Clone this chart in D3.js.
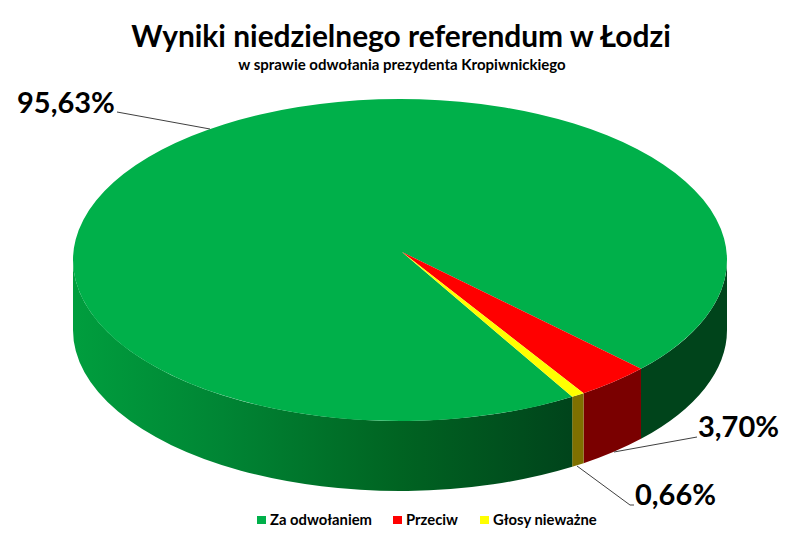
<!DOCTYPE html>
<html><head><meta charset="utf-8"><script src="https://cdn.jsdelivr.net/npm/d3@7"></script>
<style>html,body{margin:0;padding:0;background:#fff}svg{display:block}text{font-family:Lato,"Open Sans",sans-serif;fill:#000;font-weight:700}</style></head>
<body><svg id="c" width="800" height="556"></svg>
<script>
const categories=["Za odwołaniem","Przeciw","Głosy nieważne"];
const values=[95.63,3.70,0.66];
const labels=["95,63%","3,70%","0,66%"];
const colors=["#00b04a","#ff0000","#ffff00"];
const wallColors=["#00441b","#7a0000","#7f7000"];
const svg=d3.select("#c");
const cx=400,cy=260,rx=327,ry=161,depth=70,apex=[402,252];
const startA=2.587,TAU=2*Math.PI;
const arcs=d3.pie().sort(null).value(d=>d).startAngle(startA).endAngle(startA+TAU)(values);
const pt=a=>[cx+rx*Math.sin(a),cy-ry*Math.cos(a)];
const grad=svg.append("defs").append("linearGradient").attr("id","side").attr("gradientUnits","userSpaceOnUse").attr("x1",cx-rx).attr("x2",571).attr("y1",0).attr("y2",0);
[[0,"#009e3e"],[.3,"#008534"],[.65,"#006422"],[1,"#00441b"]].forEach(s=>grad.append("stop").attr("offset",s[0]).attr("stop-color",s[1]));
function wall(a0,a1,fill){
  const A=pt(a0),B=pt(a1);
  svg.append("path").attr("fill",fill).attr("d",`M${A}A${rx},${ry} 0 0 1 ${B}L${B[0]},${B[1]+depth}A${rx},${ry} 0 0 0 ${A[0]},${A[1]+depth}Z`);
}
const lo=Math.PI/2,hi=3*Math.PI/2;
wall(lo,arcs[0].endAngle-TAU,wallColors[0]);
wall(arcs[1].startAngle-TAU,arcs[1].endAngle-TAU,wallColors[1]);
wall(arcs[2].startAngle-TAU,arcs[2].endAngle-TAU,wallColors[2]);
wall(arcs[0].startAngle,hi,"url(#side)");
function wedge(d,fill){
  const A=pt(d.startAngle),B=pt(d.endAngle),large=d.endAngle-d.startAngle>Math.PI?1:0;
  svg.append("path").attr("fill",fill).attr("d",`M${apex}L${A}A${rx},${ry} 0 ${large} 1 ${B}Z`);
}
arcs.forEach((d,i)=>wedge(d,colors[i]));
const line=d3.line();
[[[117,112],[210,129]],[[697,437],[614,452]],[[577,466],[630,505],[634,505]]].forEach(l=>svg.append("path").attr("d",line(l)).attr("fill","none").attr("stroke","#404040"));
svg.append("text").attr("x",401).attr("y",47).attr("text-anchor","middle").attr("font-size",29.9).text("Wyniki niedzielnego referendum w Łodzi");
svg.append("text").attr("x",402).attr("y",70).attr("text-anchor","middle").attr("font-size",15).text("w sprawie odwołania prezydenta Kropiwnickiego");
[[17,113],[698,437],[635,505]].forEach((p,i)=>svg.append("text").attr("x",p[0]).attr("y",p[1]).attr("font-size",29).text(labels[i]));
const lx=[257,393,480];
categories.forEach((c,i)=>{
  svg.append("rect").attr("x",lx[i]).attr("y",516).attr("width",9).attr("height",8).attr("fill",colors[i]);
  svg.append("text").attr("x",lx[i]+13).attr("y",525).attr("font-size",14.8).text(c);
});
</script></body></html>
